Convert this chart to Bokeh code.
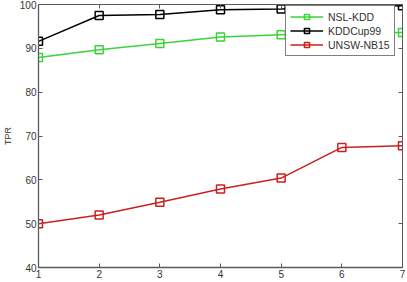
from bokeh.plotting import figure
from bokeh.models import Legend, LegendItem, LinearAxis, FixedTicker, Range1d
from bokeh.embed import file_html
from bokeh.resources import INLINE

x = [1, 2, 3, 4, 5, 6, 7]
nsl_kdd = [87.9, 89.7, 91.1, 92.6, 93.1, 93.4, 93.6]
kddcup99 = [91.6, 97.5, 97.7, 98.8, 99.0, 99.5, 99.7]
unsw_nb15 = [50.0, 52.0, 54.9, 57.9, 60.4, 67.4, 67.8]
series_names = ["NSL-KDD", "KDDCup99", "UNSW-NB15"]
y_ticks = [40, 50, 60, 70, 80, 90, 100]
x_ticks = [1, 2, 3, 4, 5, 6, 7]

colors = ["#3ad43a", "#000000", "#cc1f1f"]
FONT = "Liberation Sans"
AX = "#5a5a5a"

p = figure(width=407, height=282, output_backend="svg", toolbar_location=None,
           x_range=Range1d(1, 7), y_range=Range1d(40, 100),
           min_border_left=38, min_border_right=4, min_border_top=5, min_border_bottom=14,
           styles={"margin": "-1px"})
p.outline_line_color = AX
p.xgrid.visible = False
p.ygrid.visible = False
p.background_fill_color = "white"

items = []
for name, ys, c in zip(series_names, [nsl_kdd, kddcup99, unsw_nb15], colors):
    r1 = p.line(x, ys, line_color=c, line_width=1.5)
    r2 = p.scatter(x, ys, marker="square", size=8, line_color=c, fill_color=None, line_width=1.5)
    items.append(LegendItem(label=name, renderers=[r1, r2]))

p.xaxis.ticker = FixedTicker(ticks=x_ticks)
p.yaxis.ticker = FixedTicker(ticks=y_ticks)
for ax in [p.xaxis[0], p.yaxis[0]]:
    ax.major_tick_in = 4
    ax.major_tick_out = 0
    ax.minor_tick_in = 0
    ax.minor_tick_out = 0
    ax.axis_line_color = AX
    ax.axis_line_width = 1.3
    ax.major_tick_line_color = AX
    ax.major_label_text_font = FONT
    ax.major_label_text_font_size = "10px"
    ax.major_label_text_color = "#333333"
    ax.major_label_standoff = 2
p.yaxis.axis_label = "TPR"
p.yaxis.axis_label_text_font = FONT
p.yaxis.axis_label_text_font_size = "9px"
p.yaxis.axis_label_text_font_style = "normal"
p.yaxis.axis_label_text_color = "#333333"
p.yaxis.axis_label_standoff = 4

top_ax = LinearAxis(ticker=FixedTicker(ticks=x_ticks), major_tick_in=4, major_tick_out=0,
                    minor_tick_in=0, minor_tick_out=0, axis_line_color=AX,
                    major_tick_line_color=AX, major_label_standoff=0,
                    major_label_overrides={t: "" for t in x_ticks})
right_ax = LinearAxis(ticker=FixedTicker(ticks=y_ticks), major_tick_in=4, major_tick_out=0,
                      minor_tick_in=0, minor_tick_out=0, axis_line_color=AX,
                      major_tick_line_color=AX, major_label_standoff=0,
                      major_label_overrides={t: "" for t in y_ticks})
p.add_layout(top_ax, "above")
p.add_layout(right_ax, "right")

legend = Legend(items=items, location=(247, 211))
legend.border_line_color = "black"
legend.border_line_width = 1
legend.background_fill_alpha = 1
legend.label_text_font = FONT
legend.label_text_font_size = "10.5px"
legend.label_text_color = "#333333"
legend.glyph_width = 33
legend.glyph_height = 13
legend.label_height = 13
legend.label_standoff = 5
legend.spacing = 1
legend.padding = 4
legend.margin = 0
p.add_layout(legend, "center")

open("out.html", "w").write(file_html(p, INLINE))
